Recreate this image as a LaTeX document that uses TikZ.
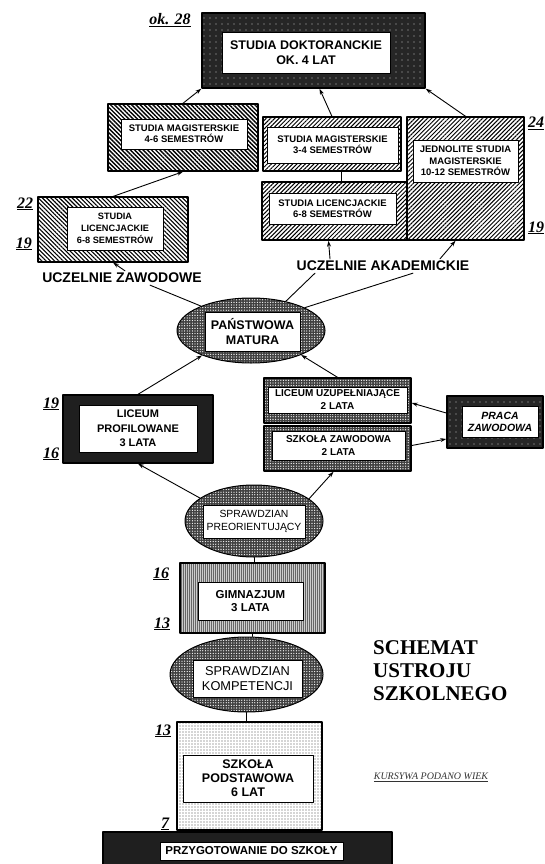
\documentclass[tikz,border=0pt]{standalone}
\usepackage{fontspec}
\setmainfont{Liberation Serif}
\newfontfamily\boxfont{Liberation Sans}
\usetikzlibrary{shapes.geometric,patterns.meta,calc,arrows.meta}
\begin{document}
\begin{tikzpicture}[x=1pt,y=-1pt,line join=round,line cap=round,>={Stealth[length=6pt,width=4pt]},
	outer/.style={draw,line width=1.4pt,inner sep=0pt},
	inbox/.style={draw,fill=white,line width=0.7pt,align=center,inner sep=0pt},
	oval/.style={ellipse,draw,line width=1pt,inner sep=0pt,preaction={fill=black!75},pattern={Dots[distance=2.6pt,radius=0.65pt]},pattern color=white},
	txt/.style 2 args={font=\boxfont\bfseries\fontsize{#1}{#2}\selectfont},
	txti/.style 2 args={font=\boxfont\bfseries\itshape\fontsize{#1}{#2}\selectfont},
	txtr/.style 2 args={font=\boxfont\fontsize{#1}{#2}\selectfont},
	hatchA/.style={preaction={fill=white},pattern={Lines[angle=-45,distance=3pt,line width=1.4pt]}},
	hatchB/.style={preaction={fill=white},pattern={Lines[angle=-45,distance=3pt,line width=1.1pt]}},
	hatchC/.style={preaction={fill=white},pattern={Lines[angle=45,distance=3pt,line width=1pt]}},
	checker/.style={preaction={fill=black!75},pattern={Dots[distance=2.6pt,radius=0.65pt]},pattern color=white},
	darkdots/.style={preaction={fill=black!85},pattern={Dots[distance=6pt,radius=0.7pt]},pattern color=white!75!black},
	streak/.style={preaction={fill=black!60},pattern={Lines[angle=90,distance=2pt,line width=0.6pt]},pattern color=white!80!black},
	fine/.style={preaction={fill=white},pattern={Dots[distance=3pt,radius=0.55pt]},pattern color=black!70},
	age/.style={font=\bfseries\itshape\fontsize{16}{16}\selectfont,anchor=base,inner sep=0pt},
	uczel/.style={font=\boxfont\bfseries\fontsize{14}{14}\selectfont,inner sep=2pt},
	conn/.style={line width=0.9pt}]
	\useasboundingbox (0,0) rectangle (545,864);
	
	\node[outer,darkdots,minimum width=223,minimum height=75] (dokt) at (313.5,50.5) {};
	\node[inbox,txt={12.5}{15},minimum width=168,minimum height=41] (dokt-t) at (306,52.5) {STUDIA DOKTORANCKIE\\OK. 4 LAT};
	\node[outer,hatchA,minimum width=150,minimum height=67] (mag46) at (183,137.5) {};
	\node[inbox,txt={9.5}{11},minimum width=126,minimum height=30] (mag46-t) at (184,134) {STUDIA MAGISTERSKIE\\4-6 SEMESTRÓW};
	\node[outer,hatchC,minimum width=138,minimum height=54] (mag34) at (332,144) {};
	\node[inbox,txt={9.5}{11},minimum width=131,minimum height=36] (mag34-t) at (332.5,145) {STUDIA MAGISTERSKIE\\3-4 SEMESTRÓW};
	\node[outer,hatchC,minimum width=145,minimum height=58] (lacad) at (334.5,211) {};
	\node[inbox,txt={9.5}{11},minimum width=127,minimum height=31] (lacad-t) at (332.5,208.5) {STUDIA LICENCJACKIE\\6-8 SEMESTRÓW};
	\node[outer,hatchC,minimum width=117,minimum height=123] (jedn) at (465.5,178.5) {};
	\node[inbox,txt={9.5}{11.5},minimum width=105,minimum height=42] (jedn-t) at (465.5,161) {JEDNOLITE STUDIA\\MAGISTERSKIE\\10-12 SEMESTRÓW};
	\node[outer,hatchB,minimum width=150,minimum height=65] (lzaw) at (113,229.5) {};
	\node[inbox,txt={9.2}{12},minimum width=96,minimum height=43] (lzaw-t) at (115,228.5) {STUDIA\\LICENCJACKIE\\6-8 SEMESTRÓW};
	
	\node[uczel] (uzaw) at (122,278) {UCZELNIE ZAWODOWE};
	\node[uczel] (akad) at (383,266) {UCZELNIE AKADEMICKIE};
	
	\node[oval,minimum width=148,minimum height=65] (mat) at (251,330.5) {};
	\node[inbox,txt={12.5}{14.5},minimum width=95,minimum height=39] (mat-t) at (252.5,331.5) {PAŃSTWOWA\\MATURA};
	\node[outer,fill=black!88,minimum width=150,minimum height=68] (lprof) at (138,429) {};
	\node[inbox,txt={11}{14.5},minimum width=118,minimum height=47] (lprof-t) at (138,428.5) {LICEUM\\PROFILOWANE\\3 LATA};
	\node[outer,checker,minimum width=147,minimum height=45] (uzup) at (337.5,400.5) {};
	\node[inbox,txt={10}{13},minimum width=139,minimum height=26] (uzup-t) at (337.5,400) {LICEUM UZUPEŁNIAJĄCE\\2 LATA};
	\node[outer,checker,minimum width=147,minimum height=45] (szkz) at (337.5,448.5) {};
	\node[inbox,txt={10}{13},minimum width=133,minimum height=29] (szkz-t) at (338.5,445.5) {SZKOŁA ZAWODOWA\\2 LATA};
	\node[outer,darkdots,minimum width=96,minimum height=52] (praca) at (495,422) {};
	\node[inbox,txti={10.5}{12},minimum width=76,minimum height=31] (praca-t) at (500,421.5) {PRACA\\ZAWODOWA};
	
	\node[oval,minimum width=138,minimum height=72] (preor) at (254,521) {};
	\node[inbox,txtr={10.4}{13},minimum width=102,minimum height=33] (preor-t) at (254,521.5) {SPRAWDZIAN\\PREORIENTUJĄCY};
	\node[outer,streak,minimum width=145,minimum height=70] (gimn) at (252.5,598) {};
	\node[inbox,txt={11.5}{13},minimum width=105,minimum height=38] (gimn-t) at (250.5,601) {GIMNAZJUM\\3 LATA};
	\node[oval,minimum width=153,minimum height=75] (komp) at (246.5,674.5) {};
	\node[inbox,txtr={12.8}{14.5},minimum width=109,minimum height=37] (komp-t) at (247.5,678.5) {SPRAWDZIAN\\KOMPETENCJI};
	\node[outer,fine,minimum width=145,minimum height=108] (podst) at (249.5,776) {};
	\node[inbox,txt={12.5}{14},minimum width=130,minimum height=47] (podst-t) at (248,778.5) {SZKOŁA\\PODSTAWOWA\\6 LAT};
	\node[outer,fill=black!88,minimum width=289,minimum height=36] (przyg) at (247.5,850) {};
	\node[inbox,txt={11.5}{13},minimum width=183,minimum height=18] (przyg-t) at (251.5,851) {PRZYGOTOWANIE DO SZKOŁY};
	
	\node[font=\bfseries\fontsize{21}{23}\selectfont,align=left,anchor=north west,inner sep=0pt] (tytul) at (373,640) {SCHEMAT\\USTROJU\\SZKOLNEGO};
	\node[font=\itshape\fontsize{10}{10}\selectfont,text=black!80] (kurs) at (431,777) {\underline{KURSYWA PODANO WIEK}};
	
	\foreach \wiek/\px/\py/\nm in {{ok. 28}/170/25/a1,24/536/128/a2,19/536/232/a3,22/25/208/a4,19/24/248/a5,19/51/408/a6,16/51/458/a7,16/161/578/a8,13/162/628/a9,13/163/735/a10,7/165/828/a11}
	\node[age] (\nm) at (\px,\py) {\underline{\wiek}};
	
	\draw[conn,->] (mag46.north) -- (dokt.south west);
	\draw[conn,->] (mag34.north) -- ($(dokt.south)+(6,0)$);
	\draw[conn,->] (jedn.north) -- (dokt.south east);
	\draw[conn] ($(lacad.north)+(6.5,0)$) -- ($(mag34.south)+(9,0)$);
	\draw[conn,->] (lzaw.north) -- (mag46.south);
	\draw[conn,->] ($(uzaw.north)+(3,0)$) -- (lzaw.south);
	\draw[conn,->] ($(akad.north)+(-53,0)$) -- ($(lacad.south)+(-6,0)$);
	\draw[conn,->] ($(akad.north)+(57,0)$) -- ($(jedn.south)+(-10,0)$);
	\draw[conn] (mat.154) -- ($(uzaw.south)+(28,0)$);
	\draw[conn] (mat.40) -- ($(akad.south)+(-68,0)$);
	\draw[conn] (mat.23) -- ($(akad.south)+(30,0)$);
	\draw[conn,->] (lprof.north) -- (mat.207);
	\draw[conn,->] (uzup.north) -- (mat.-26);
	\draw[conn,->] ($(praca.west)+(0,-9)$) -- ($(uzup.east)+(0,2.5)$);
	\draw[conn,->] ($(szkz.east)+(0,-3)$) -- ($(praca.west)+(0,17)$);
	\draw[conn,->] (preor.157) -- (lprof.south);
	\draw[conn,->] (preor.22) -- ($(szkz.south)+(-4,0)$);
	\draw[conn] (preor.south) -- (preor.south |- gimn.north);
	\draw[conn] (gimn.south) -- (gimn.south |- komp.north);
	\draw[conn] (komp.south) -- (komp.south |- podst.north);
\end{tikzpicture}
\end{document}
